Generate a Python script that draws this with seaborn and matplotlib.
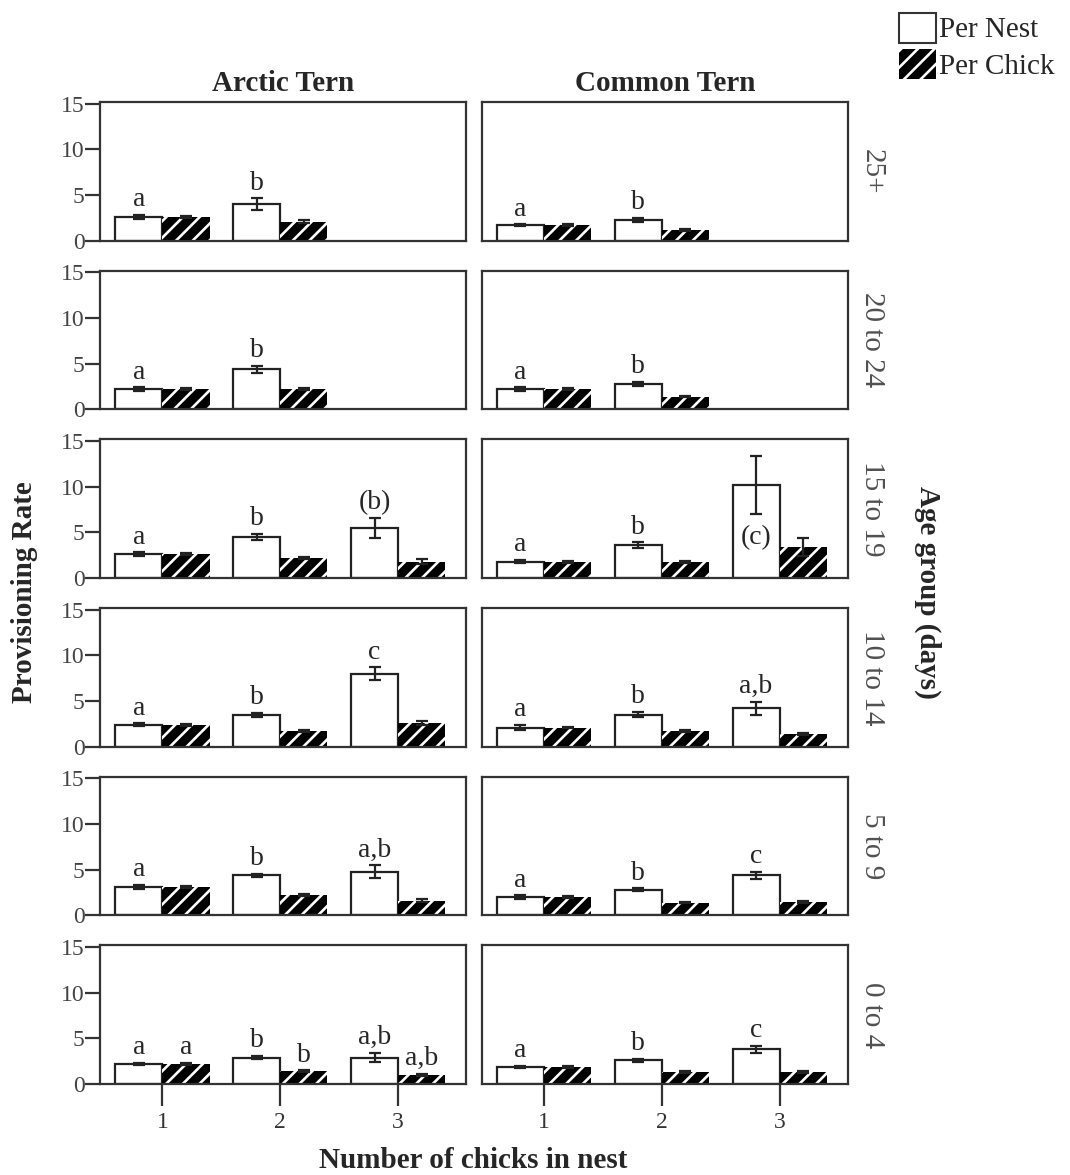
import numpy as np
import pandas as pd
import matplotlib
matplotlib.use("Agg")
import matplotlib.pyplot as plt
from matplotlib.patches import Patch
import seaborn as sns

nan = np.nan
species = ["Arctic Tern", "Common Tern"]
ages = ["25+", "20 to 24", "15 to 19", "10 to 14", "5 to 9", "0 to 4"]
chicks = ["1", "2", "3"]
measures = ["Per Nest", "Per Chick"]

arctic_nest = [[2.6, 4.0, nan], [2.2, 4.4, nan], [2.6, 4.5, 5.5],
               [2.4, 3.5, 8.0], [3.1, 4.4, 4.8], [2.2, 2.9, 2.9]]
arctic_nest_se = [[0.2, 0.65, nan], [0.2, 0.4, nan], [0.2, 0.3, 1.1],
                  [0.15, 0.2, 0.7], [0.2, 0.15, 0.7], [0.15, 0.15, 0.5]]
arctic_chick = [[2.6, 2.1, nan], [2.2, 2.2, nan], [2.6, 2.2, 1.8],
                [2.4, 1.7, 2.6], [3.1, 2.2, 1.6], [2.2, 1.4, 1.0]]
arctic_chick_se = [[0.1, 0.2, nan], [0.1, 0.1, nan], [0.1, 0.1, 0.3],
                   [0.1, 0.1, 0.2], [0.1, 0.1, 0.15], [0.1, 0.1, 0.1]]
common_nest = [[1.7, 2.3, nan], [2.2, 2.8, nan], [1.8, 3.6, 10.2],
               [2.1, 3.5, 4.2], [2.0, 2.8, 4.4], [1.9, 2.6, 3.8]]
common_nest_se = [[0.1, 0.2, nan], [0.2, 0.2, nan], [0.15, 0.3, 3.2],
                  [0.3, 0.3, 0.7], [0.2, 0.15, 0.4], [0.1, 0.15, 0.4]]
common_chick = [[1.7, 1.2, nan], [2.2, 1.4, nan], [1.8, 1.8, 3.4],
                [2.1, 1.7, 1.4], [2.0, 1.4, 1.5], [1.9, 1.3, 1.3]]
common_chick_se = [[0.1, 0.1, nan], [0.1, 0.1, nan], [0.1, 0.1, 1.0],
                   [0.1, 0.1, 0.1], [0.1, 0.1, 0.1], [0.1, 0.1, 0.1]]

arctic_nest_letters = [["a", "b", ""], ["a", "b", ""], ["a", "b", "(b)"],
                       ["a", "b", "c"], ["a", "b", "a,b"], ["a", "b", "a,b"]]
arctic_chick_letters = [["", "", ""], ["", "", ""], ["", "", ""],
                        ["", "", ""], ["", "", ""], ["a", "b", "a,b"]]
common_nest_letters = [["a", "b", ""], ["a", "b", ""], ["a", "b", "(c)"],
                       ["a", "b", "a,b"], ["a", "b", "c"], ["a", "b", "c"]]
common_chick_letters = [["", "", ""]] * 6
inside_letters = {("Common Tern", "15 to 19", "3", "Per Nest"): 4.4}

# ---- build long table
rows = []
tables = {
    ("Arctic Tern", "Per Nest"): (arctic_nest, arctic_nest_se, arctic_nest_letters),
    ("Arctic Tern", "Per Chick"): (arctic_chick, arctic_chick_se, arctic_chick_letters),
    ("Common Tern", "Per Nest"): (common_nest, common_nest_se, common_nest_letters),
    ("Common Tern", "Per Chick"): (common_chick, common_chick_se, common_chick_letters),
}
for (sp, m), (vals, ses, lets) in tables.items():
    for i, age in enumerate(ages):
        for j, c in enumerate(chicks):
            if not np.isnan(vals[i][j]):
                rows.append(dict(species=sp, age=age, chicks=c, measure=m,
                                 rate=vals[i][j], se=ses[i][j], letter=lets[i][j]))
df = pd.DataFrame(rows)

sns.set_theme(style="white")
plt.rcParams["font.family"] = ["Liberation Serif", "DejaVu Serif"]
plt.rcParams["hatch.linewidth"] = 1.9
plt.rcParams["hatch.color"] = "white"

fig, axes = plt.subplots(6, 2, figsize=(10.7, 11.75), dpi=100, sharey=True)
fig.subplots_adjust(left=100 / 1070, right=848 / 1070, top=1 - 102 / 1175,
                    bottom=1 - 1084 / 1175, wspace=0.041, hspace=0.216)

for r, age in enumerate(ages):
    for c, sp in enumerate(species):
        ax = axes[r, c]
        sub = df[(df.species == sp) & (df.age == age)]
        sns.barplot(data=sub, x="chicks", y="rate", hue="measure", order=chicks,
                    hue_order=measures, palette={"Per Nest": "white", "Per Chick": "black"},
                    edgecolor="#222222", linewidth=1.6, errorbar=None, width=0.8,
                    legend=False, ax=ax)
        for p in ax.patches:
            xc = p.get_x() + p.get_width() / 2
            k = int(round(xc))
            is_chick = p.get_facecolor()[0] < 0.5
            m = "Per Chick" if is_chick else "Per Nest"
            row = sub[(sub.chicks == chicks[k]) & (sub.measure == m)]
            if row.empty:
                continue
            row = row.iloc[0]
            if is_chick:
                p.set_hatch("//")
                p.set_edgecolor("white")
                p.set_linewidth(0)
            ax.errorbar(xc, row.rate, yerr=row.se, color="#222222", lw=1.6,
                        capsize=4, capthick=1.6, zorder=5)
            if row.letter:
                key = (sp, age, chicks[k], m)
                if key in inside_letters:
                    ax.text(xc, inside_letters[key], row.letter, ha="center",
                            va="center", fontsize=20, zorder=6)
                else:
                    ax.text(xc, row.rate + row.se + 0.3, row.letter, ha="center",
                            va="bottom", fontsize=20, zorder=6)
        ax.set_xlim(-0.53, 2.58)
        ax.set_ylim(0, 15.2)
        ax.set_yticks([0, 5, 10, 15])
        ax.set_xlabel("")
        ax.set_ylabel("")
        for s in ax.spines.values():
            s.set_visible(True)
            s.set_color("#333333")
            s.set_linewidth(1.6)
        ax.tick_params(axis="y", left=(c == 0), labelleft=(c == 0), direction="out",
                       length=11, width=1.6, color="#333333", labelsize=17,
                       labelcolor="#444444", pad=0)
        if r == len(ages) - 1:
            ax.tick_params(axis="x", bottom=True, direction="out", length=16,
                           width=1.6, color="#333333", labelsize=17,
                           labelcolor="#333333", pad=4)
        else:
            ax.tick_params(axis="x", bottom=False, labelbottom=False)
        if c == 1:
            ax.text(1.03, 0.5, age, transform=ax.transAxes, rotation=-90,
                    ha="left", va="center", fontsize=21, color="#505050")
        if r == 0:
            ax.set_title(sp, fontsize=21, fontweight="bold", pad=8)

fig.text(25 / 1070, 1 - 592 / 1175, "Provisioning Rate", rotation=90, ha="center",
         va="center", fontsize=21, fontweight="bold")
fig.text(928 / 1070, 1 - 592 / 1175, "Age group (days)", rotation=-90, ha="center",
         va="center", fontsize=21, fontweight="bold")
fig.text(473 / 1070, 1 - 1161 / 1175, "Number of chicks in nest", ha="center",
         va="center", fontsize=21, fontweight="bold")

handles = [Patch(facecolor="white", edgecolor="#333333", linewidth=1.5, label="Per Nest"),
           Patch(facecolor="black", edgecolor="white", hatch="//", linewidth=0, label="Per Chick")]
fig.legend(handles=handles, loc="upper right", bbox_to_anchor=(1066 / 1070, 1 - 1 / 1175),
           frameon=False, fontsize=21, handlelength=1.25, handleheight=1.2,
           handletextpad=0.1, labelspacing=0.2, borderaxespad=0)

fig.savefig("out.png", dpi=100)
